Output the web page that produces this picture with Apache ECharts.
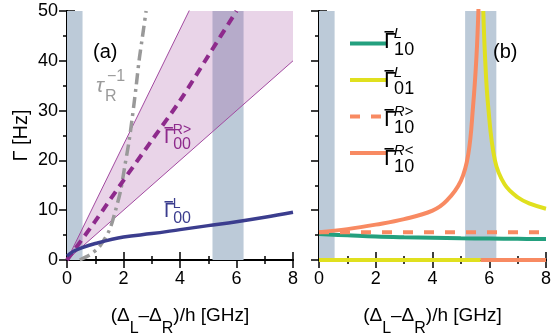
<!DOCTYPE html>
<html>
<head>
<meta charset="utf-8">
<script src="https://cdn.jsdelivr.net/npm/echarts@6/dist/echarts.min.js"></script>
<style>
  html, body { margin: 0; padding: 0; background: #fff; }
  #chart { width: 551px; height: 334px; }
</style>
</head>
<body>
<div id="chart"></div>
<script>
// shaded regions (GHz)
const bandRanges = [[0, 0.55], [5.15, 6.25]]

// panel (a)
const coneLower = [[0, 0], [8, 40]]
const coneUpper = [[0, 0], [8, 92.6]]
const tauR = [[0.45, 0], [0.8, 1], [1.15, 2.7], [1.5, 6], [1.72, 10], [1.9, 14], [2.05, 19], [2.2, 24], [2.32, 29], [2.45, 35], [2.55, 40], [2.65, 44], [2.8, 50]]
const gR00 = [[0, 0], [1, 7.8], [2, 16], [3, 24], [4, 32], [5, 41], [6, 50]]
const gL00 = [[0, 0.8], [0.25, 1.8], [0.5, 2.4], [1, 3.3], [2, 4.6], [3, 5.3], [4, 6.1], [5, 6.9], [6, 7.7], [7, 8.6], [8, 9.6]]

// panel (b)
const gL10 = [[0, 5.2], [1, 4.95], [2, 4.7], [3, 4.55], [4, 4.45], [5, 4.35], [6, 4.3], [7, 4.25], [8, 4.2]]
const gL01 = [[0, 0], [5.7, 0], [5.74, null], [5.79, 50], [5.85, 41], [5.96, 31], [6.2, 20], [6.54, 15.2], [7.0, 12.6], [7.48, 11.2], [8, 10.3]]
const gR10gt = [[0, 5.56], [8, 5.56]]
const gR10lt = [[0, 5.56], [1, 6.2], [2, 7.1], [3, 8.2], [4, 9.9], [4.5, 11.9], [5, 15.9], [5.26, 21.2], [5.43, 30.9], [5.55, 40.9], [5.62, 50.5], [5.66, null], [5.7, 0], [8, 0]]

const xTicks = [0, 2, 4, 6, 8]
const yTicks = [0, 10, 20, 30, 40, 50]

const FONT = '"Liberation Sans", Arial, sans-serif'
const chart = echarts.init(document.getElementById('chart'))

const grids = [
  { left: 67, top: 11, width: 226, height: 249 },
  { left: 319, top: 11, width: 227, height: 249 }
]

function xAxis(grid, pos, labels) {
  return {
    type: 'value', gridIndex: grid, position: pos,
    min: xTicks[0], max: xTicks[xTicks.length - 1], interval: 2,
    axisLine: { show: true, lineStyle: { color: '#000', width: 2 } },
    axisTick: { show: true, inside: true, length: 8, lineStyle: { color: '#000', width: 1.5 } },
    minorTick: { show: true, splitNumber: 2, length: 4, lineStyle: { color: '#000', width: 1.5 } },
    splitLine: { show: false },
    axisLabel: { show: labels, fontSize: 18, color: '#000', fontFamily: FONT, margin: 10, showMinLabel: true, showMaxLabel: true },
    name: labels ? '(Δ{s|L}–Δ{s|R})/h [GHz]' : '',
    nameLocation: 'middle', nameGap: 46,
    nameTextStyle: {
      fontSize: 19, color: '#000', fontFamily: FONT, verticalAlign: 'top', lineHeight: 20,
      rich: { s: { fontSize: 16, fontFamily: FONT, color: '#000', verticalAlign: 'top', padding: [15, 0, 0, 0] } }
    }
  }
}

function yAxis(grid, pos, labels, name) {
  return {
    type: 'value', gridIndex: grid, position: pos,
    min: yTicks[0], max: yTicks[yTicks.length - 1], interval: 10,
    axisLine: { show: true, lineStyle: { color: '#000', width: 2 } },
    axisTick: { show: true, inside: true, length: 8, lineStyle: { color: '#000', width: 1.5 } },
    minorTick: { show: true, splitNumber: 2, length: 4, lineStyle: { color: '#000', width: 1.5 } },
    splitLine: { show: false },
    axisLabel: { show: labels, fontSize: 18, color: '#000', fontFamily: FONT, margin: 9, showMinLabel: true, showMaxLabel: true },
    name: name || '',
    nameLocation: 'middle', nameGap: 36, nameRotate: 90,
    nameTextStyle: { fontSize: 20, color: '#000', fontFamily: FONT }
  }
}

function band(axis) {
  return {
    type: 'line', xAxisIndex: axis, yAxisIndex: axis, data: [], z: 1, silent: true,
    markArea: {
      silent: true,
      itemStyle: { color: '#bccad8' },
      data: bandRanges.map(r => [{ xAxis: r[0] }, { xAxis: r[1] }])
    }
  }
}

function curve(name, axis, data, color, width, type, extra) {
  return Object.assign({
    name: name, type: 'line', xAxisIndex: axis, yAxisIndex: axis, data: data,
    symbol: 'none', showSymbol: false, z: 3, silent: true, animation: false,
    lineStyle: { color: color, width: width, type: type || 'solid', cap: 'butt' },
    itemStyle: { color: color }
  }, extra || {})
}

// filled wedge between the two bounding lines of panel (a)
const coneFill = {
  type: 'custom', xAxisIndex: 0, yAxisIndex: 0, z: 2, silent: true, clip: true,
  data: [[0, 0]],
  renderItem: (params, api) => {
    const pts = coneUpper.map(p => api.coord(p)).concat(coneLower.slice().reverse().map(p => api.coord(p)))
    return { type: 'polygon', shape: { points: pts }, style: { fill: 'rgba(162,74,160,0.24)' } }
  }
}

// Γ with overline and stacked super/subscript
function gammaLabel(x, yc, color, sup, sub, supItalic, size) {
  const big = size || 22
  const small = Math.round(big * 0.8)
  const tiny = Math.round(big * 0.68)
  return [
    { type: 'text', x: x, y: yc, z: 20, style: { text: 'Γ', font: big + 'px ' + FONT, fill: color, verticalAlign: 'middle' } },
    { type: 'rect', z: 20, shape: { x: x + 0.5, y: yc - big * 0.5, width: big * 0.42, height: 1.6 }, style: { fill: color } },
    { type: 'text', x: x + big * 0.44, y: yc - big * 0.36, z: 20, style: { text: sup, font: (supItalic ? 'italic ' : '') + tiny + 'px ' + FONT, fill: color, verticalAlign: 'middle' } },
    { type: 'text', x: x + big * 0.46, y: yc + big * 0.38, z: 20, style: { text: sub, font: small + 'px ' + FONT, fill: color, verticalAlign: 'middle' } }
  ]
}

const graphics = [].concat(
  [
    { type: 'text', x: 93, y: 52, z: 20, style: { text: '(a)', font: '20px ' + FONT, fill: '#000', verticalAlign: 'middle' } },
    { type: 'text', x: 493, y: 52, z: 20, style: { text: '(b)', font: '20px ' + FONT, fill: '#000', verticalAlign: 'middle' } },
    { type: 'text', x: 96, y: 86, z: 20, style: { text: 'τ', font: 'italic 21px ' + FONT, fill: '#9a9a9a', verticalAlign: 'middle' } },
    { type: 'text', x: 105, y: 97, z: 20, style: { text: 'R', font: '16px ' + FONT, fill: '#9a9a9a', verticalAlign: 'middle' } },
    { type: 'text', x: 107, y: 77, z: 20, style: { text: '−1', font: '16px ' + FONT, fill: '#9a9a9a', verticalAlign: 'middle' } }
  ],
  gammaLabel(164, 137, '#8e2a8c', 'R>', '00', false, 20),
  gammaLabel(164, 211, '#3b3d8e', 'L', '00', false, 20),
  gammaLabel(384, 42, '#000', 'L', '10', true),
  gammaLabel(384, 81, '#000', 'L', '01', true),
  gammaLabel(384, 120, '#000', 'R>', '10', true),
  gammaLabel(384, 159, '#000', 'R<', '10', true)
)

const option = {
  animation: false,
  backgroundColor: '#fff',
  grid: grids.map(g => Object.assign({ outerBoundsMode: 'none', containLabel: false }, g)),
  xAxis: [xAxis(0, 'bottom', true), xAxis(0, 'top', false), xAxis(1, 'bottom', true), xAxis(1, 'top', false)],
  yAxis: [yAxis(0, 'left', true, 'Γ [Hz]'), yAxis(0, 'right', false), yAxis(1, 'left', false), yAxis(1, 'right', false)],
  legend: {
    data: ['G10L', 'G01L', 'G10Rgt', 'G10Rlt'],
    orient: 'vertical', left: 343, top: 33,
    itemWidth: 37, itemHeight: 14, itemGap: 25.3,
    selectedMode: false,
    itemStyle: { opacity: 0, borderWidth: 0 },
    lineStyle: { width: 4 },
    formatter: () => ' ',
    textStyle: { fontSize: 10, lineHeight: 10 }
  },
  graphic: graphics,
  series: [
    band(0),
    coneFill,
    curve('coneLo', 0, coneLower, '#a24aa0', 1, 'solid', { z: 2 }),
    curve('coneHi', 0, coneUpper, '#a24aa0', 1, 'solid', { z: 2 }),
    curve('tau', 0, tauR, '#999999', 3.5, [11, 5, 3, 5], { smooth: 0.3 }),
    curve('R00', 0, gR00, '#8e2a8c', 4, [9, 6], { smooth: 0.3 }),
    curve('L00', 0, gL00, '#3b3d8e', 3.5, 'solid', { smooth: 0.4 }),
    band(2),
    curve('G10L', 2, gL10, '#23a07e', 4, 'solid', { smooth: 0.4 }),
    curve('G01L', 2, gL01, '#e0e01e', 4, 'solid', { smooth: 0.4 }),
    curve('G10Rgt', 2, gR10gt, '#f88a62', 4, [10, 11]),
    curve('G10Rlt', 2, gR10lt, '#f88a62', 4, 'solid', { smooth: 0.4 })
  ]
}

chart.setOption(option)
</script>
</body>
</html>
